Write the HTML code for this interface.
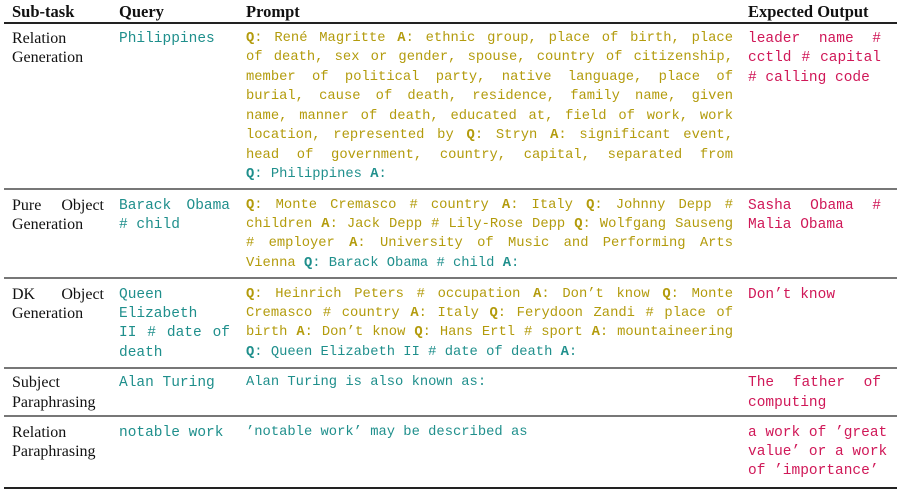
<!DOCTYPE html>
<html><head><meta charset="utf-8"><style>
body{margin:0;width:905px;height:496px;background:#fff;position:relative;overflow:hidden}
.l{position:absolute;height:20px;line-height:20px;white-space:nowrap}
.m{font-family:"Liberation Mono",monospace;font-size:14.5px}
.s{font-family:"Liberation Serif",serif;font-size:16px;color:#111}
.j{white-space:normal;text-align:justify;text-align-last:justify;overflow:hidden}
.o{color:#b39b0c}.t{color:#1f8f8c}.r{color:#d01858}
b{font-weight:bold}
.h{font-family:"Liberation Serif",serif;font-size:16.5px;font-weight:bold;color:#111;position:absolute;top:2px;line-height:20px}
.rule{position:absolute;left:4px;width:893px;background:#222}
.p{left:246px;width:487px;font-size:13.8px}.q{left:119px}.e{left:748px;width:133px}.st{left:12px}
</style></head><body>
<div class="h" style="left:12px">Sub-task</div>
<div class="h" style="left:119px">Query</div>
<div class="h" style="left:246px">Prompt</div>
<div class="h" style="left:748px">Expected Output</div>
<div class="rule" style="top:22px;height:2px"></div>
<div class="rule" style="top:188px;height:2px;background:#777"></div>
<div class="rule" style="top:277px;height:2px;background:#777"></div>
<div class="rule" style="top:367px;height:2px;background:#777"></div>
<div class="rule" style="top:415px;height:2px;background:#777"></div>
<div class="rule" style="top:487px;height:2px"></div>

<!-- Row 1 -->
<div class="l s st" style="top:29px">Relation</div>
<div class="l s st" style="top:48px">Generation</div>
<div class="l m t q" style="top:29px">Philippines</div>
<div class="l m o p j" style="top:29px"><b>Q</b>: René Magritte <b>A</b>: ethnic group, place of birth, place</div>
<div class="l m o p j" style="top:48px">of death, sex or gender, spouse, country of citizenship,</div>
<div class="l m o p j" style="top:68px">member of political party, native language, place of</div>
<div class="l m o p j" style="top:87px">burial, cause of death, residence, family name, given</div>
<div class="l m o p j" style="top:107px">name, manner of death, educated at, field of work, work</div>
<div class="l m o p j" style="top:126px">location, represented by <b>Q</b>: Stryn <b>A</b>: significant event,</div>
<div class="l m o p j" style="top:146px">head of government, country, capital, separated from</div>
<div class="l m t p" style="top:165px"><b>Q</b>: Philippines <b>A</b>:</div>
<div class="l m r e j" style="top:29px">leader name #</div>
<div class="l m r e j" style="top:48px">cctld # capital</div>
<div class="l m r e" style="top:68px"># calling code</div>

<!-- Row 2 -->
<div class="l s st j" style="top:196px;width:92px">Pure Object</div>
<div class="l s st" style="top:215px">Generation</div>
<div class="l m t q j" style="top:196px;width:111px">Barack Obama</div>
<div class="l m t q" style="top:215px"># child</div>
<div class="l m o p j" style="top:196px"><b>Q</b>: Monte Cremasco # country <b>A</b>: Italy <b>Q</b>: Johnny Depp #</div>
<div class="l m o p j" style="top:215px">children <b>A</b>: Jack Depp # Lily-Rose Depp <b>Q</b>: Wolfgang Sauseng</div>
<div class="l m o p j" style="top:234px"># employer <b>A</b>: University of Music and Performing Arts</div>
<div class="l m p" style="top:254px"><span class="o">Vienna</span> <span class="t"><b>Q</b>: Barack Obama # child <b>A</b>:</span></div>
<div class="l m r e j" style="top:196px">Sasha Obama #</div>
<div class="l m r e" style="top:215px">Malia Obama</div>

<!-- Row 3 -->
<div class="l s st j" style="top:285px;width:92px">DK Object</div>
<div class="l s st" style="top:304px">Generation</div>
<div class="l m t q" style="top:285px">Queen</div>
<div class="l m t q" style="top:304px">Elizabeth</div>
<div class="l m t q j" style="top:323px;width:111px">II # date of</div>
<div class="l m t q" style="top:343px">death</div>
<div class="l m o p j" style="top:285px"><b>Q</b>: Heinrich Peters # occupation <b>A</b>: Don’t know <b>Q</b>: Monte</div>
<div class="l m o p j" style="top:304px">Cremasco # country <b>A</b>: Italy <b>Q</b>: Ferydoon Zandi # place of</div>
<div class="l m o p j" style="top:323px">birth <b>A</b>: Don’t know <b>Q</b>: Hans Ertl # sport <b>A</b>: mountaineering</div>
<div class="l m t p" style="top:343px"><b>Q</b>: Queen Elizabeth II # date of death <b>A</b>:</div>
<div class="l m r e" style="top:285px">Don’t know</div>

<!-- Row 4 -->
<div class="l s st" style="top:373px">Subject</div>
<div class="l s st" style="top:393px">Paraphrasing</div>
<div class="l m t q" style="top:373px">Alan Turing</div>
<div class="l m t p" style="top:373px">Alan Turing is also known as:</div>
<div class="l m r e j" style="top:373px">The father of</div>
<div class="l m r e" style="top:393px">computing</div>

<!-- Row 5 -->
<div class="l s st" style="top:423px">Relation</div>
<div class="l s st" style="top:442px">Paraphrasing</div>
<div class="l m t q" style="top:423px">notable work</div>
<div class="l m t p" style="top:423px">’notable work’ may be described as</div>
<div class="l m r e" style="top:423px">a work of ’great</div>
<div class="l m r e" style="top:442px">value’ or a work</div>
<div class="l m r e" style="top:461px">of ’importance’</div>
</body></html>
